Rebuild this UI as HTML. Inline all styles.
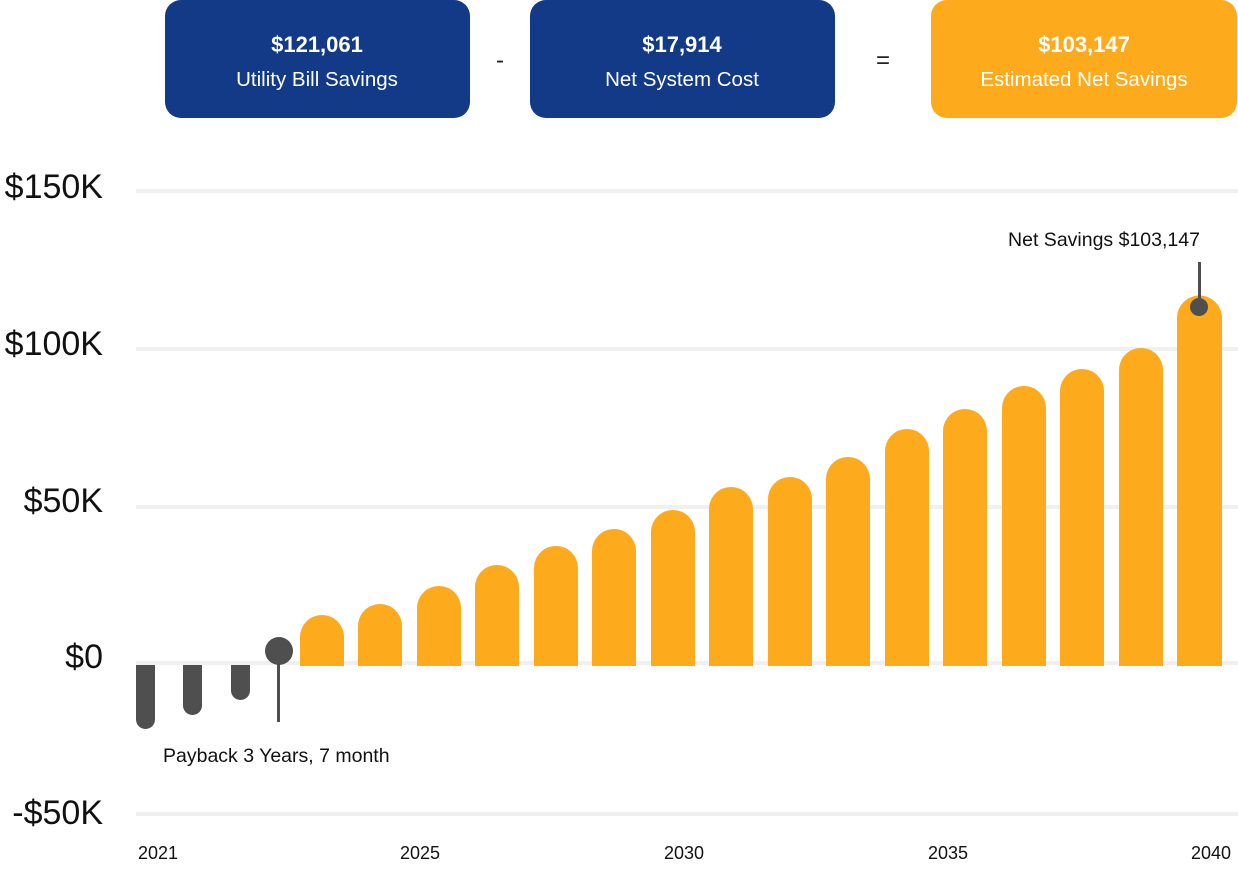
<!DOCTYPE html>
<html><head><meta charset="utf-8"><style>
html,body{margin:0;padding:0;background:#fff;}
body{width:1238px;height:864px;overflow:hidden;font-family:"Liberation Sans",sans-serif;}
</style></head><body>
<svg width="1238" height="864" viewBox="0 0 1238 864" xmlns="http://www.w3.org/2000/svg" font-family="Liberation Sans, sans-serif">
<rect x="165" y="0" width="305" height="118" rx="16" fill="#123a86"/>
<rect x="530" y="0" width="305" height="118" rx="16" fill="#123a86"/>
<rect x="931" y="0" width="306" height="118" rx="16" fill="#fdab1c"/>
<g fill="#fff" text-anchor="middle">
<text x="317" y="52" font-size="22" font-weight="bold">$121,061</text>
<text x="317" y="86" font-size="20.5">Utility Bill Savings</text>
<text x="682" y="52" font-size="22" font-weight="bold">$17,914</text>
<text x="682" y="86" font-size="20.5">Net System Cost</text>
<text x="1084" y="52" font-size="22" font-weight="bold">$103,147</text>
<text x="1084" y="86" font-size="20.5">Estimated Net Savings</text>
</g>
<text x="500" y="68" font-size="24" text-anchor="middle" fill="#222">-</text>
<text x="883" y="68" font-size="24" text-anchor="middle" fill="#222">=</text>
<g fill="#f0f0f0">
<rect x="136" y="189" width="1102" height="4"/>
<rect x="136" y="347" width="1102" height="4"/>
<rect x="136" y="505" width="1102" height="4"/>
<rect x="136" y="661" width="1102" height="4"/>
<rect x="136" y="812" width="1102" height="4"/>
</g>
<g font-size="34" fill="#111" text-anchor="end">
<text x="103" y="198">$150K</text>
<text x="103" y="355">$100K</text>
<text x="103" y="512">$50K</text>
<text x="103" y="668">$0</text>
<text x="103" y="824">-$50K</text>
</g>
<g fill="#4f4f4f">
<path d="M136 665 V719.5 a9.5 9.5 0 0 0 19 0 V665 Z"/>
<path d="M183 665 V705.5 a9.5 9.5 0 0 0 19 0 V665 Z"/>
<path d="M231 665 V690.5 a9.5 9.5 0 0 0 19 0 V665 Z"/>
<rect x="277" y="651" width="3" height="71"/>
<circle cx="279" cy="651" r="14"/>
</g>
<g fill="#fdab1c">
<path d="M300 666 V637 a22 22 0 0 1 44 0 V666 Z"/>
<path d="M358 666 V626 a22 22 0 0 1 44 0 V666 Z"/>
<path d="M417 666 V608 a22 22 0 0 1 44 0 V666 Z"/>
<path d="M475 666 V587 a22 22 0 0 1 44 0 V666 Z"/>
<path d="M534 666 V568 a22 22 0 0 1 44 0 V666 Z"/>
<path d="M592 666 V551 a22 22 0 0 1 44 0 V666 Z"/>
<path d="M651 666 V532 a22 22 0 0 1 44 0 V666 Z"/>
<path d="M709 666 V509 a22 22 0 0 1 44 0 V666 Z"/>
<path d="M768 666 V499 a22 22 0 0 1 44 0 V666 Z"/>
<path d="M826 666 V479 a22 22 0 0 1 44 0 V666 Z"/>
<path d="M885 666 V451 a22 22 0 0 1 44 0 V666 Z"/>
<path d="M943 666 V431 a22 22 0 0 1 44 0 V666 Z"/>
<path d="M1002 666 V408 a22 22 0 0 1 44 0 V666 Z"/>
<path d="M1060 666 V391 a22 22 0 0 1 44 0 V666 Z"/>
<path d="M1119 666 V370 a22 22 0 0 1 44 0 V666 Z"/>
<path d="M1177 666 V318 a22.5 22.5 0 0 1 45 0 V666 Z"/>
</g>
<rect x="1198" y="262" width="3" height="45" fill="#4f4f4f"/>
<circle cx="1199" cy="307" r="9" fill="#4f4f4f"/>
<text x="1104" y="246" font-size="19.5" fill="#111" text-anchor="middle">Net Savings $103,147</text>
<text x="163" y="762" font-size="19.5" fill="#111">Payback 3 Years, 7 month</text>
<g font-size="18" fill="#111" text-anchor="middle">
<text x="158" y="859">2021</text>
<text x="420" y="859">2025</text>
<text x="684" y="859">2030</text>
<text x="948" y="859">2035</text>
<text x="1211" y="859">2040</text>
</g>
</svg>
</body></html>
